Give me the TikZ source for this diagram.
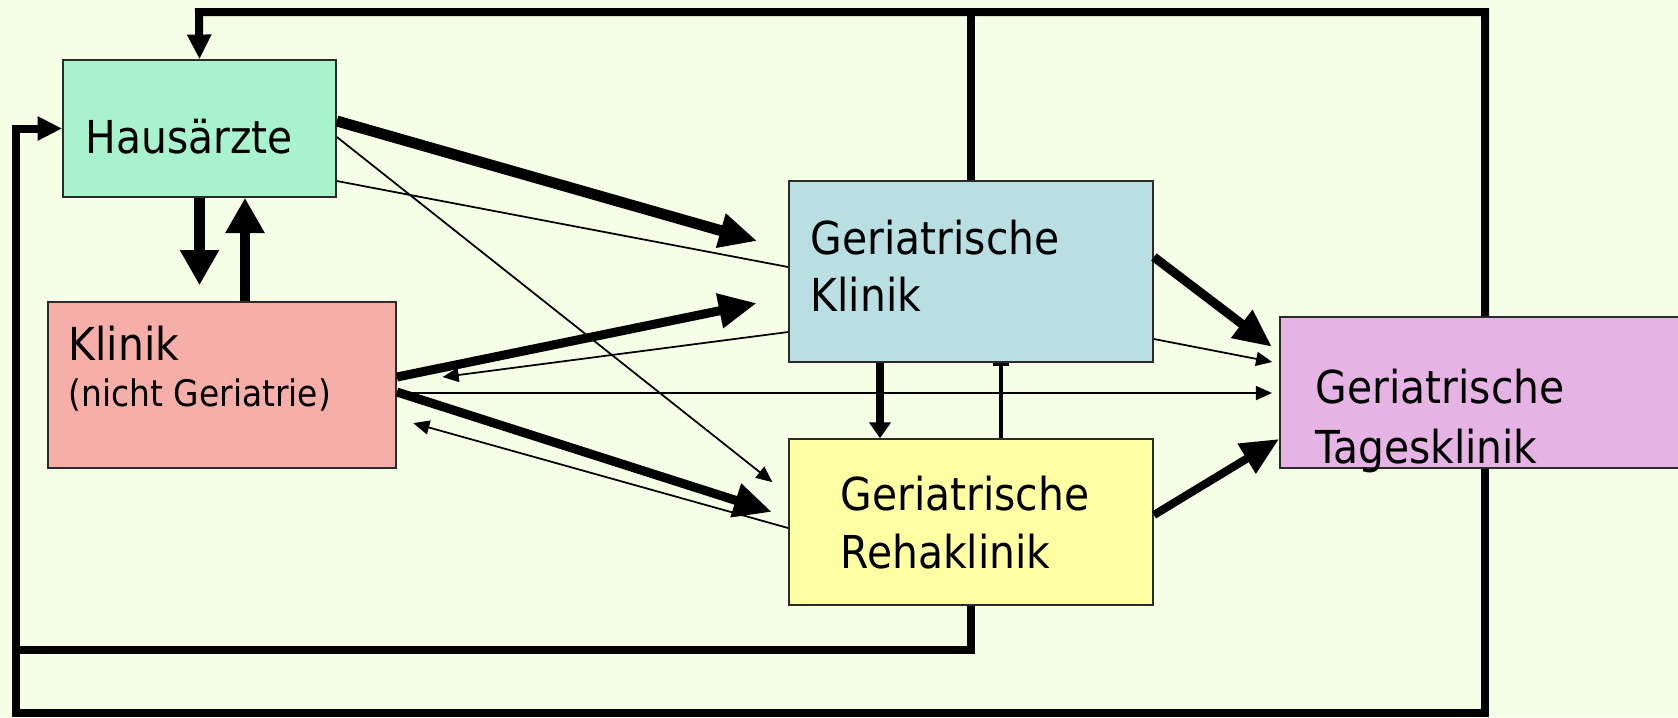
\documentclass[tikz,border=0pt]{standalone}
\usepackage{fontspec}
\setmainfont{DejaVu Sans Condensed}
\usetikzlibrary{arrows.meta}
\definecolor{bgc}{HTML}{F4FFE5}
\definecolor{boxline}{HTML}{2B2B2B}
\definecolor{hfill}{HTML}{A8F2CD}
\definecolor{kfill}{HTML}{F5AEA8}
\definecolor{gkfill}{HTML}{B9DFE3}
\definecolor{rfill}{HTML}{FFFFA3}
\definecolor{tfill}{HTML}{E6B4E4}
\begin{document}
\begin{tikzpicture}[x=0.01cm,y=-0.01cm,
  box/.style={draw=boxline, line width=0.45pt, inner sep=0pt, anchor=center},
  txt/.style={anchor=base west, inner sep=0pt, font=\fontsize{12.9}{15}\selectfont},
  smalltxt/.style={anchor=base west, inner sep=0pt, font=\fontsize{10.4}{12}\selectfont},
  slim/.style={line width=0.5pt, -{Triangle[length=4.6pt,width=4pt]}},
  fat/.style={line width=2.56pt, -{Triangle[length=10.8pt,width=9.4pt]}},
  loopline/.style={line width=2.28pt, line join=miter},
  looptip/.style={-{Triangle[length=7pt,width=6.5pt]}},
  vfat/.style={line width=3pt, -{Triangle[length=10pt,width=10.5pt]}},
]
\fill[bgc] (0,0) rectangle (1678,717);
\useasboundingbox (0,0) rectangle (1678,717);

% boxes
\node[box, fill=hfill, minimum width=2.73cm, minimum height=1.37cm] (H) at (199.5,128.5) {};
\node[box, fill=kfill, minimum width=3.48cm, minimum height=1.66cm] (K) at (222,385) {};
\node[box, fill=gkfill, minimum width=3.64cm, minimum height=1.81cm] (GK) at (971,271.5) {};
\node[box, fill=rfill, minimum width=3.64cm, minimum height=1.66cm] (R) at (971,522) {};
\node[box, fill=tfill, minimum width=4.10cm, minimum height=1.51cm] (T) at (1485,392.5) {};

% texts
\node[txt] (tH) at (85,153) {Hausärzte};
\node[txt] (tK1) at (68,360) {Klinik};
\node[smalltxt] (tK2) at (68,406) {(nicht Geriatrie)};
\node[txt] (tGK1) at (810,254) {Geriatrische};
\node[txt] (tGK2) at (810,311) {Klinik};
\node[txt] (tR1) at (840,510) {Geriatrische};
\node[txt] (tR2) at (840,568) {Rehaklinik};
\node[txt] (tT1) at (1315,403) {Geriatrische};
\node[txt] (tT2) at (1315,463) {Tagesklinik};

% outer loop
\coordinate (tl) at (199,12);
\coordinate (tr) at (1485,12);
\coordinate (br) at (1485,713);
\coordinate (bl) at (16,713);
\coordinate (ml) at (16,650);
\draw[loopline] (GK.north) -- (GK.north |- tl);
\draw[loopline, looptip] (T.north) -- (tr) -- (tl) -- (H.north);
\draw[loopline, looptip] (T.south) -- (br) -- (bl) -- (bl |- H.west) -- (H.west);
\draw[loopline] (R.south) -- (R.south |- ml) -- (ml);

% connectors
\draw[fat, line width=3.1pt, shorten >=0.32cm] (H.east |- 0,121) -- (GK.west |- 0,249.8);
\draw[line width=0.5pt] (H.east |- 0,181) -- (GK.west |- 0,267);
\draw[slim, shorten >=0.2cm] (H.east |- 0,137) -- (R.west |- 0,494.6);
\draw[vfat, shorten >=0.16cm] (H.south) -- (H.south |- K.north);
\draw[vfat] (245,0 |- K.north) -- (245,0 |- H.south);
\draw[fat, shorten >=0.32cm] (K.east |- 0,377) -- (GK.west |- 0,296.7);
\draw[slim, shorten >=0.46cm] (GK.west |- 0,332) -- (K.east |- 0,383);
\draw[slim, shorten >=0.07cm] (K.east |- 0,393) -- (T.west |- 0,393);
\draw[fat, shorten >=0.17cm] (K.east |- 0,392) -- (R.west |- 0,517.1);
\draw[slim, shorten >=0.17cm] (R.west |- 0,528) -- (K.east |- 0,418.5);
\draw[fat, shorten >=0.09cm] (GK.east |- 0,257) -- (T.west |- 0,352.25);
\draw[slim, shorten >=0.07cm] (GK.east |- 0,339) -- (T.west |- 0,363.3);
\draw[fat, line width=2.3pt] (R.east |- 0,515) -- (T.west |- 0,439);
\draw[line width=2pt, -{Triangle[length=4.5pt,width=6pt]}] (880,0 |- GK.south) -- (880,0 |- R.north);
\draw[line width=1.4pt, -{Bar[width=4.8pt,line width=1pt]}] (1001,0 |- R.north) -- (1001,0 |- GK.south);
\end{tikzpicture}
\end{document}
